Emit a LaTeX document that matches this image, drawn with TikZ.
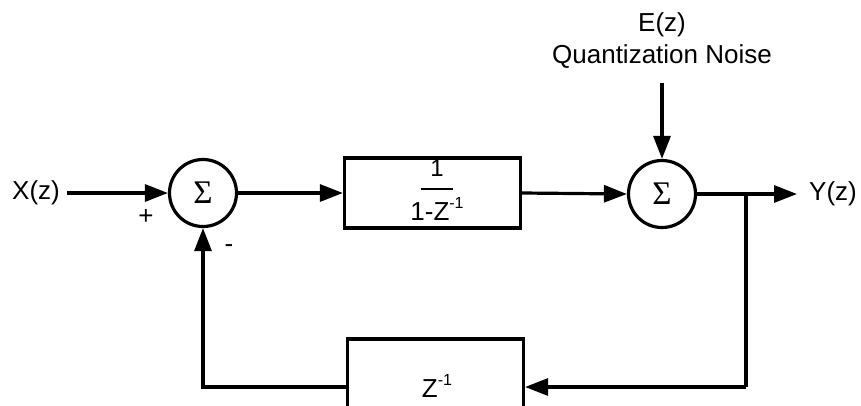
\documentclass[tikz,border=0pt]{standalone}
\usepackage{fontspec}
\setmainfont{Liberation Sans}
\newfontfamily\sigfont{Liberation Serif}
\usetikzlibrary{arrows.meta}
\begin{document}
\begin{tikzpicture}[x=1pt,y=-1pt, line width=3.2pt,
  >={Triangle[length=23pt,width=17pt]},
  lbl/.style={font=\fontsize{26}{30}\selectfont, inner sep=0pt},
  sumnode/.style={circle, draw, minimum size=67pt, inner sep=0pt},
  sig/.style={font=\sigfont\fontsize{33}{36}\selectfont, inner sep=0pt},
  blk/.style={draw, inner sep=0pt, minimum width=176pt}]
\useasboundingbox (0,0) rectangle (861,405);
\clip (0,0) rectangle (861,405);
% summing junctions
\node[sumnode] (s1) at (203,193) {};
\node[sig] (s1t) at (s1) {Σ};
\node[sumnode] (s2) at (662,194) {};
\node[sig] (s2t) at (s2) {Σ};
% forward block
\node[blk, minimum height=70pt] (h) at (432.5,193) {};
\node[lbl, font=\fontsize{24}{28}\selectfont] (hn) at (437,168) {1};
\coordinate (fl1) at (421,189);
\coordinate (fl2) at (453,189);
\draw[line width=2.4pt] (fl1) -- (fl2);
\node[lbl] (hd) at (437,209) {1-Z\raisebox{0.45em}{\fontsize{16}{18}\selectfont -1}};
% feedback block
\node[blk, minimum height=96pt] (g) at (435.5,387) {};
\node[lbl] (gt) at (437,386) {Z\raisebox{0.45em}{\fontsize{16}{18}\selectfont -1}};
% labels
\node[lbl] (x) at (36,193) {X(z)};
\node[lbl] (y) at (833,194) {Y(z)};
\node[lbl] (e) at (662,25) {E(z)};
\node[lbl] (q) at (662,57) {Quantization Noise};
\node[lbl] (plus) at (146,217) {+};
\node[lbl] (minus) at (229,249) {-};
% connectors
\coordinate (xs) at (67,193);
\coordinate (es) at (662,83);
\coordinate (ye) at (797,194);
\coordinate (br) at (746,194);
\coordinate (fb) at (746,387);
\draw[->] (xs) -- (s1.west);
\draw[->] (s1.east) -- (h.west);
\draw[->] (h.east) -- (s2.west);
\draw[->] (s2.east) -- (ye);
\draw[->] (es) -- (s2.north);
\draw (br) -- (fb);
\draw[->] (fb) -- (g.east);
\draw[->] (g.west) -- (s1 |- g.west) -- (s1.south);
\end{tikzpicture}
\end{document}
